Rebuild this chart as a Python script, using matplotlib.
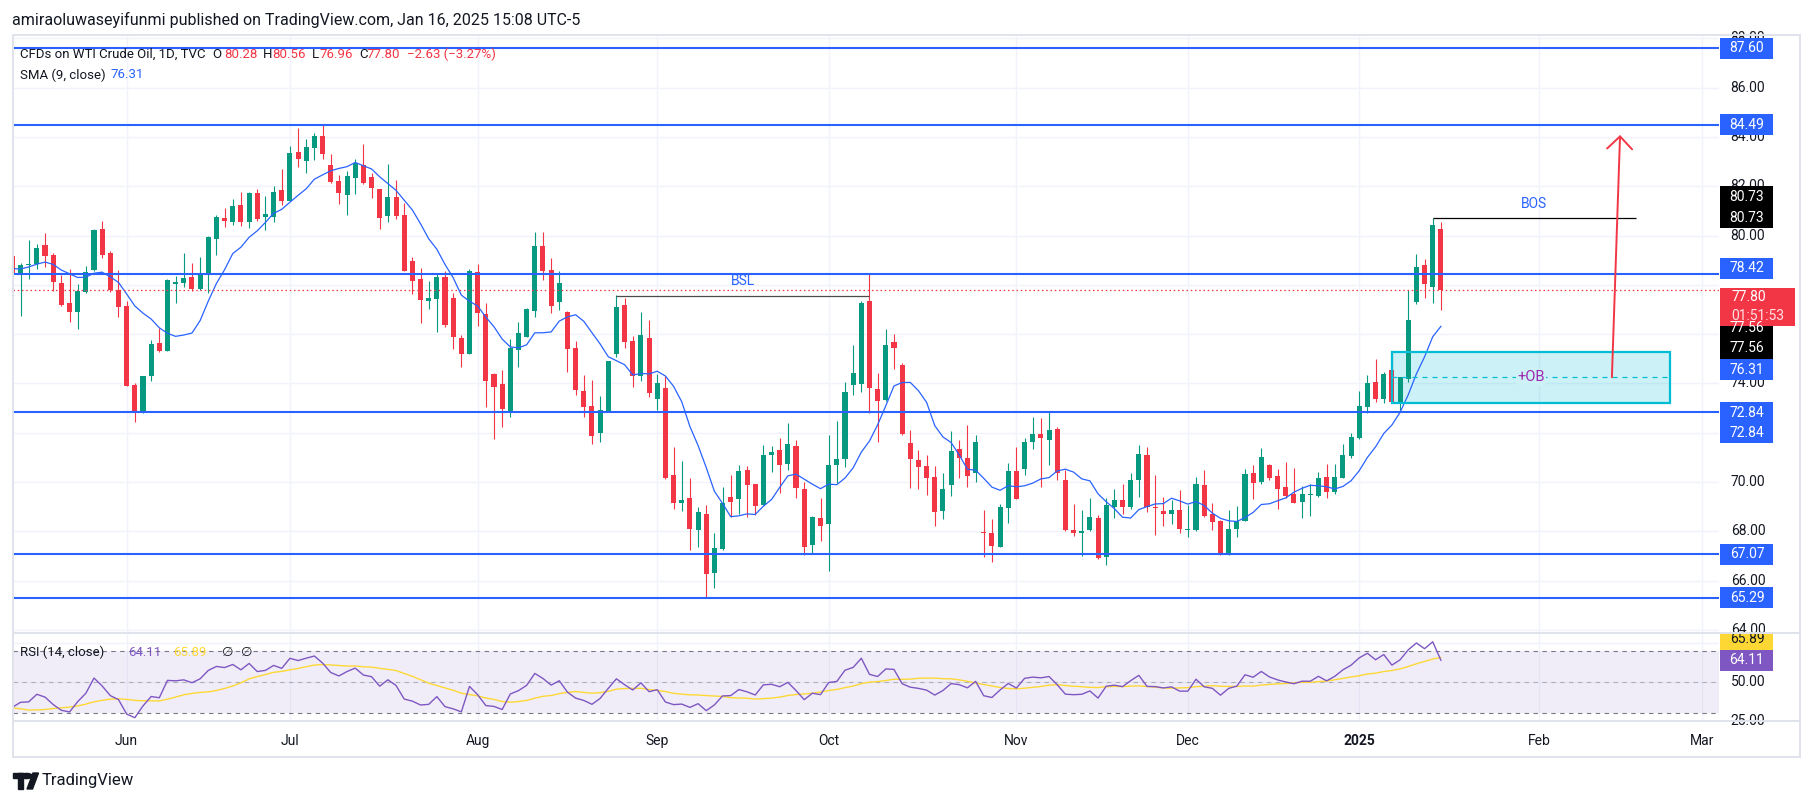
import numpy as np
import pandas as pd
import matplotlib
matplotlib.use('Agg')
import matplotlib.pyplot as plt
import matplotlib.transforms as mtrans
from matplotlib.patches import Rectangle, FancyArrowPatch, Circle, Polygon
from matplotlib.lines import Line2D

plt.rcParams['font.family'] = ['Roboto', 'DejaVu Sans']

# ---- daily candles, WTI CFD (TVC), 14 May 2024 .. 16 Jan 2025 ----
opens = [79.17, 78.43, 78.81, 78.85, 79.62, 79.21, 78.08, 77.28, 76.91, 77.69,
         78.61, 80.27, 79.30, 77.79, 77.14, 73.94, 72.83, 74.32, 75.64, 75.33,
         78.05, 78.09, 78.32, 77.82, 78.38, 79.84, 80.72, 80.57, 81.24, 80.57,
         81.73, 80.74, 80.77, 81.85, 81.42, 83.39, 83.04, 83.57, 84.04, 82.87,
         82.22, 81.66, 82.34, 82.87, 82.38, 81.89, 80.81, 81.57, 80.84, 78.97,
         78.24, 77.36, 77.44, 78.32, 77.47, 75.85, 75.21, 78.52, 76.82, 74.38,
         73.98, 72.79, 75.37, 75.90, 76.95, 79.58, 78.61, 77.32, 76.91, 75.44,
         73.69, 73.10, 71.98, 72.86, 75.20, 77.18, 75.74, 74.32, 75.85, 73.38,
         73.83, 70.30, 69.16, 69.35, 68.03, 68.70, 66.29, 67.27, 69.37, 69.30,
         70.49, 69.92, 69.07, 71.11, 71.30, 70.72, 71.46, 69.70, 67.44, 68.54,
         68.31, 70.70, 70.92, 73.92, 73.99, 77.35, 73.78, 73.33, 75.68, 74.75,
         71.58, 70.89, 70.65, 70.20, 68.84, 69.89, 71.34, 70.98, 70.35, 67.97,
         67.94, 67.38, 68.96, 70.43, 70.52, 71.61, 71.95, 71.71, 72.15, 70.08,
         68.05, 67.92, 68.03, 68.53, 66.94, 68.97, 69.27, 68.98, 70.06, 71.10,
         69.00, 68.82, 68.70, 68.87, 68.03, 68.05, 69.88, 68.70, 68.42, 67.08,
         68.09, 68.43, 70.35, 70.01, 70.69, 70.25, 69.78, 69.51, 69.20, 69.45,
         69.43, 70.19, 69.61, 70.18, 71.07, 71.77, 73.06, 74.05, 73.36, 74.55,
         73.25, 74.18, 77.29, 78.81, 77.93, 80.28]
highs = [79.20, 78.88, 79.82, 79.66, 80.11, 79.28, 78.40, 78.65, 78.04, 78.77,
         80.27, 80.59, 79.38, 78.61, 77.35, 74.01, 74.30, 75.76, 76.24, 78.24,
         78.36, 79.30, 78.88, 79.13, 79.99, 80.82, 81.12, 81.50, 81.77, 81.77,
         81.89, 81.61, 82.01, 82.70, 83.64, 84.38, 83.92, 84.15, 84.49, 83.31,
         82.46, 82.62, 83.11, 83.73, 82.54, 81.90, 82.91, 82.26, 81.32, 79.13,
         78.69, 78.16, 78.46, 78.55, 77.67, 75.95, 78.65, 78.85, 77.28, 74.41,
         74.55, 75.79, 76.49, 77.06, 80.15, 80.15, 79.09, 78.55, 76.95, 75.74,
         74.34, 74.14, 73.49, 74.92, 77.59, 77.47, 75.93, 76.91, 76.58, 74.38,
         74.28, 71.42, 70.83, 70.14, 68.97, 69.07, 67.92, 69.80, 70.29, 70.69,
         70.65, 69.93, 71.50, 71.44, 71.77, 72.38, 71.71, 69.99, 68.63, 69.33,
         71.91, 72.46, 74.05, 75.56, 77.36, 78.47, 74.41, 76.21, 76.01, 74.82,
         72.11, 71.30, 71.10, 70.65, 70.38, 72.07, 71.71, 72.33, 71.91, 68.87,
         68.49, 69.11, 70.76, 71.41, 71.77, 72.63, 72.59, 72.83, 72.25, 70.49,
         69.11, 68.87, 69.34, 68.66, 69.34, 69.72, 69.92, 70.35, 71.50, 71.41,
         70.29, 69.37, 69.27, 69.68, 69.07, 70.19, 70.49, 69.13, 68.45, 68.87,
         69.03, 70.52, 70.69, 71.37, 70.73, 70.52, 70.79, 70.56, 69.84, 69.92,
         70.42, 70.73, 70.73, 71.53, 71.98, 73.69, 74.34, 74.99, 74.48, 75.29,
         74.27, 77.79, 79.25, 79.05, 80.73, 80.56]
lows = [78.30, 76.75, 78.24, 78.66, 78.74, 77.73, 77.15, 76.51, 76.21, 77.65,
        78.56, 79.07, 77.69, 76.71, 73.90, 72.45, 72.80, 74.11, 75.29, 75.30,
        77.28, 77.93, 77.73, 77.78, 77.66, 79.23, 80.36, 80.43, 80.40, 80.30,
        80.61, 80.24, 80.57, 81.24, 81.40, 82.80, 82.52, 83.07, 83.11, 82.12,
        81.28, 80.85, 81.70, 82.10, 81.54, 80.28, 80.53, 80.69, 78.55, 77.64,
        76.47, 77.02, 76.10, 76.28, 75.41, 74.68, 75.20, 76.31, 73.03, 71.73,
        72.25, 72.65, 74.68, 75.88, 76.71, 78.20, 76.87, 76.98, 74.48, 73.51,
        72.63, 71.52, 71.64, 72.85, 75.09, 75.45, 73.87, 74.11, 73.44, 72.92,
        70.10, 68.89, 68.84, 67.22, 67.38, 65.32, 65.69, 67.25, 68.57, 68.70,
        68.57, 68.66, 69.05, 70.42, 69.57, 70.49, 69.34, 67.02, 67.11, 67.62,
        66.40, 69.95, 70.60, 73.52, 73.67, 72.79, 71.61, 73.30, 74.60, 71.90,
        69.77, 69.72, 69.47, 68.23, 68.51, 69.41, 70.18, 69.81, 70.01, 66.97,
        66.77, 67.35, 68.35, 69.30, 70.29, 71.34, 69.81, 70.69, 70.06, 67.99,
        67.81, 67.01, 67.99, 66.88, 66.61, 68.53, 68.70, 68.89, 69.37, 68.80,
        67.86, 68.22, 68.30, 67.92, 67.78, 67.99, 68.57, 68.03, 67.04, 67.05,
        67.78, 68.40, 69.29, 69.92, 70.06, 68.89, 69.34, 69.15, 68.53, 68.62,
        69.38, 69.34, 69.51, 70.15, 70.96, 71.75, 72.79, 73.26, 73.19, 73.22,
        72.92, 74.07, 77.23, 77.47, 77.28, 76.96]
closes = [78.38, 78.81, 78.85, 79.50, 79.15, 78.13, 77.20, 76.91, 77.75, 78.52,
          80.23, 79.23, 77.79, 77.12, 73.91, 72.83, 74.28, 75.60, 75.33, 78.20,
          78.12, 78.29, 77.82, 78.46, 79.96, 80.76, 80.61, 81.20, 80.53, 81.73,
          80.68, 80.88, 81.77, 81.42, 83.37, 83.11, 83.60, 84.04, 83.29, 82.18,
          81.74, 82.42, 82.96, 82.15, 81.95, 80.73, 81.57, 80.81, 78.58, 78.17,
          77.40, 77.47, 78.32, 76.39, 75.90, 75.21, 78.55, 76.87, 74.11, 73.87,
          72.98, 75.44, 76.05, 77.02, 79.58, 78.58, 77.16, 78.08, 75.41, 73.75,
          73.06, 71.88, 72.92, 74.91, 77.12, 75.70, 74.32, 75.97, 73.59, 74.03,
          70.14, 69.16, 69.27, 68.08, 68.77, 66.25, 67.32, 69.13, 69.20, 70.45,
          69.87, 69.04, 71.10, 71.22, 70.68, 71.54, 69.77, 67.38, 68.59, 68.23,
          70.68, 70.92, 73.64, 74.41, 77.27, 73.83, 73.30, 75.56, 75.45, 71.94,
          70.95, 70.62, 70.14, 68.76, 69.72, 71.26, 70.99, 70.26, 71.62, 67.94,
          67.42, 68.98, 70.46, 69.30, 71.64, 71.95, 71.80, 72.10, 70.38, 68.05,
          67.92, 67.99, 68.57, 66.90, 69.07, 69.27, 68.97, 70.08, 71.14, 69.00,
          68.96, 68.70, 68.87, 68.09, 68.09, 69.92, 68.63, 68.36, 67.08, 68.08,
          68.42, 70.33, 69.95, 71.00, 70.18, 69.73, 69.41, 69.16, 69.51, 69.50,
          70.15, 69.61, 70.19, 71.10, 71.81, 73.09, 74.01, 73.36, 74.38, 73.25,
          74.25, 76.58, 78.73, 78.05, 80.43, 77.80]
# closes before the visible window (Apr - mid May 2024), only to warm up SMA / RSI
prior_closes = [83.71, 85.15, 85.43, 86.59, 86.91, 86.43, 85.23, 86.21, 85.02, 85.66,
                85.41, 85.36, 82.69, 82.73, 83.14, 82.85, 83.36, 82.81, 83.57, 83.85,
                82.63, 81.93, 79.00, 78.95, 78.11, 78.48, 78.38, 78.99, 79.26, 78.26,
                79.12]

month_labels = ['Jun', 'Jul', 'Aug', 'Sep', 'Oct', 'Nov', 'Dec', '2025', 'Feb', 'Mar']
month_bars = [14, 34, 57, 79, 100, 123, 144, 165, 187, 207]

levels = [87.60, 84.49, 78.42, 72.84, 67.07, 65.29]
bsl_price, bsl_from, bsl_to = 77.56, 74, 105
bos_price, bos_from, bos_to = 80.73, 174, 198.9
ob_from, ob_to, ob_low, ob_high = 169, 203.06, 73.22, 75.29
arrow_start = (195.95, 74.25)
arrow_end = (196.95, 84.08)
sma_last, rsi_last, rsi_ma_last = 76.31, 64.11, 65.89
countdown = '01:51:53'

UP, DN, BLUE, TXT = '#089981', '#f23645', '#2962ff', '#131722'
GRID, FRAME, PURPLE, YELLOW = '#f0f3fa', '#e0e3eb', '#7e57c2', '#fdd835'

# indicators
allc = pd.Series(prior_closes + closes)
sma = allc.rolling(9).mean().values[-len(closes):]
d = allc.diff().fillna(0)
g = d.clip(lower=0).ewm(alpha=1/14, adjust=False).mean()
ls_ = (-d).clip(lower=0).ewm(alpha=1/14, adjust=False).mean()
rsi_all = 100 - 100 / (1 + g / ls_)
rsi = rsi_all.values[-len(closes):]
rsi_ma = rsi_all.rolling(14).mean().values[-len(closes):]

W, H = 1814, 802
fig = plt.figure(figsize=(W / 100, H / 100), dpi=100)
fig.patch.set_facecolor('white')


def fx(px):
    return px / W


def fy(py):
    return 1 - py / H


L_, R_, T_, MB, RT, RB = 12.7, 1719, 34.5, 632, 633, 721
ax = fig.add_axes([fx(L_), fy(MB), fx(R_) - fx(L_), fy(T_) - fy(MB)])
axr = fig.add_axes([fx(L_), fy(RB), fx(R_) - fx(L_), fy(RT) - fy(RB)])
axp = fig.add_axes([fx(R_), fy(MB), fx(1800) - fx(R_), fy(T_) - fy(MB)])
axpr = fig.add_axes([fx(R_), fy(RB), fx(1800) - fx(R_), fy(RT) - fy(RB)])
for a in (ax, axr, axp, axpr):
    a.axis('off')
ax.set_xlim(0.04, 209.07)
axr.set_xlim(0.04, 209.07)
ax.set_ylim(63.91, 88.16)
axr.set_ylim(24.84, 81.6)
axp.set_ylim(ax.get_ylim())
axpr.set_ylim(axr.get_ylim())

# grid
for b in month_bars:
    ax.axvline(b, color=GRID, lw=1, zorder=0)
    axr.axvline(b, color=GRID, lw=1, zorder=0)
for v in range(64, 90, 2):
    ax.axhline(v, color=GRID, lw=1, zorder=0)
for v in (25, 50, 75):
    axr.axhline(v, color=GRID, lw=1, zorder=0)

# candles
x = np.arange(len(closes))
o, hi, lo, c = map(np.array, (opens, highs, lows, closes))
col = np.where(c >= o, UP, DN)
ax.vlines(x, lo, hi, colors=col, lw=0.8, zorder=3)
ax.bar(x, np.maximum(np.abs(c - o), 0.04), bottom=np.minimum(o, c), width=0.62,
       color=col, lw=0, zorder=3)
ax.plot(x, sma, color=BLUE, lw=0.9, zorder=4)

# order block
ax.add_patch(Rectangle((ob_from, ob_low), ob_to - ob_from, ob_high - ob_low,
                       facecolor='#00bcd4', alpha=0.2, lw=0, zorder=2))
ax.add_patch(Rectangle((ob_from, ob_low), ob_to - ob_from, ob_high - ob_low,
                       fill=False, edgecolor='#00bcd4', lw=1.6, zorder=5))
ob_mid = (ob_low + ob_high) / 2
ax.hlines(ob_mid, ob_from, ob_to, color='#00bcd4', lw=0.9, ls=(0, (4, 4)), zorder=5)
ax.text((ob_from + ob_to) / 2, ob_mid, '+OB', color='#9c27b0', fontsize=10.5,
        ha='center', va='center', zorder=6,
        bbox=dict(facecolor='#ccf2f6', edgecolor='none', pad=1))

# levels
for v in levels:
    ax.axhline(v, color=BLUE, lw=1.5, zorder=5)
ax.axhline(c[-1], color=DN, lw=0.9, ls=(0, (1.2, 2.2)), zorder=4)

ax.hlines(bsl_price, bsl_from, bsl_to, color='#4a4a4a', lw=0.9, zorder=5)
ax.annotate('BSL', ((bsl_from + bsl_to) / 2, bsl_price), xytext=(0, 10.5),
            textcoords='offset points', ha='center', va='center', color=BLUE, fontsize=10)
ax.hlines(bos_price, bos_from, bos_to, color='black', lw=0.9, zorder=5)
ax.annotate('BOS', ((bos_from + bos_to) / 2, bos_price), xytext=(0, 10),
            textcoords='offset points', ha='center', va='center', color=BLUE, fontsize=10)
ax.add_patch(FancyArrowPatch(arrow_start, arrow_end,
                             arrowstyle='->,head_length=0.9,head_width=0.9',
                             mutation_scale=10, color=DN, lw=1.4, zorder=6,
                             shrinkA=0, shrinkB=0))

# RSI pane
axr.axhspan(30, 70, color=PURPLE, alpha=0.1, lw=0, zorder=1)
for v, a_ in ((70, 1), (50, 0.5), (30, 1)):
    axr.axhline(v, color='#787b86', alpha=a_, lw=0.8, ls=(0, (4, 4)), zorder=2)
axr.plot(x, rsi_ma, color=YELLOW, lw=1, zorder=3)
axr.plot(x, rsi, color=PURPLE, lw=1, zorder=4)


def py_of(a, v):
    return H - a.transData.transform((0, v))[1]


def tag(a, py, txt, bg, fg, x1=1773, h=21):
    r = Rectangle((fx(1720), fy(py + h / 2)), fx(x1) - fx(1720), h / H,
                  transform=fig.transFigure, facecolor=bg, lw=0, zorder=8)
    a.add_artist(r)
    t = a.text(fx(1747), fy(py), txt, transform=fig.transFigure, color=fg,
               fontsize=10, ha='center', va='center', zorder=9)
    t.set_clip_path(a.patch)


def plain(a, v):
    t = a.text(fx(1748), fy(py_of(a, v)), f'{v:.2f}', transform=fig.transFigure,
               color=TXT, fontsize=10, ha='center', va='center', zorder=3)
    t.set_clip_path(a.patch)


# axis ticks that are not fully hidden behind the value tags
for v in (88, 86, 84, 82, 80, 74, 70, 68, 66, 64):
    plain(axp, v)
for v in (50, 25):
    plain(axpr, v)

shifted = [(87.60, 0, BLUE), (84.49, 0, BLUE), (bos_price, -21, 'black'), (bos_price, 0, 'black'),
           (78.42, -6, BLUE), (bsl_price, 32.5, 'black'), (bsl_price, 52.5, 'black'),
           (sma_last, 43.5, BLUE), (72.84, 1, BLUE), (72.84, 21, BLUE),
           (67.07, 0, BLUE), (65.29, 0, BLUE)]
for v, dy, bg in shifted:
    tag(axp, py_of(axp, v) + dy, f'{v:.2f}', bg, 'white')

# last price box
ly = py_of(axp, c[-1]) - 2
axp.add_artist(Rectangle((fx(1720), fy(ly + 38)), fx(1795) - fx(1720), 38 / H,
                         transform=fig.transFigure, facecolor=DN, lw=0, zorder=8))
axp.text(fx(1731), fy(ly + 9.5), f'{c[-1]:.2f}', transform=fig.transFigure, color='white',
         fontsize=10, ha='left', va='center', zorder=9)
axp.text(fx(1731), fy(ly + 28), countdown, transform=fig.transFigure, color='#fde0e3',
         fontsize=10, ha='left', va='center', zorder=9)

tag(axpr, py_of(axpr, rsi_last) - 21, f'{rsi_ma_last:.2f}', YELLOW, TXT)
tag(axpr, py_of(axpr, rsi_last), f'{rsi_last:.2f}', PURPLE, 'white')

# month labels
tr = mtrans.blended_transform_factory(axr.transData, fig.transFigure)
for b, m in zip(month_bars, month_labels):
    axr.text(b, fy(741), m, transform=tr, ha='center', va='center', fontsize=10,
             color=TXT, fontweight='bold' if m == '2025' else 'normal', clip_on=False)

# frame
for (x0, y0, x1, y1) in [(L_, T_, 1800, T_), (L_, 757, 1800, 757), (L_, T_, L_, 757),
                         (1800, T_, 1800, 757), (L_, 632.5, 1800, 632.5), (L_, 721, 1800, 721)]:
    fig.add_artist(Line2D([fx(x0), fx(x1)], [fy(y0), fy(y1)], color=FRAME, lw=1.4))

# legends
fig.text(fx(12), fy(20), 'amiraoluwaseyifunmi published on TradingView.com, Jan 16, 2025 15:08 UTC-5',
         color=TXT, fontsize=11.5, va='center')
chg = c[-1] - c[-2]
chg_txt = f'{chg:.2f} ({chg / c[-2] * 100:.2f}%)'.replace('-', '\u2212')
parts = [(20, 'CFDs on WTI Crude Oil, 1D, TVC', TXT), (212.7, 'O', TXT), (224, f'{o[-1]:.2f}', DN),
         (263, 'H', TXT), (272.7, f'{hi[-1]:.2f}', DN), (312, 'L', TXT), (319, f'{lo[-1]:.2f}', DN),
         (359, 'C', TXT), (366.7, f'{c[-1]:.2f}', DN), (407.3, chg_txt, DN)]
for px, s, cl in parts:
    fig.text(fx(px), fy(54.3), s, color=cl, fontsize=9.5, va='center')
fig.text(fx(20), fy(75), 'SMA (9, close)', color=TXT, fontsize=9.5, va='center')
fig.text(fx(110), fy(75), f'{sma_last:.2f}', color=BLUE, fontsize=9.5, va='center')
for px, s, cl in [(20, 'RSI (14, close)', TXT), (127.7, f'{rsi_last:.2f}', PURPLE),
                  (173.3, f'{rsi_ma_last:.2f}', YELLOW), (221.7, '\u2205', TXT), (240.7, '\u2205', TXT)]:
    fig.text(fx(px), fy(652.7), s, color=cl, fontsize=9.5, va='center')

# TradingView logo
fig.add_artist(Rectangle((fx(13), fy(778)), fx(23) - fx(13), 5 / H, transform=fig.transFigure, color=TXT))
fig.add_artist(Rectangle((fx(18), fy(789)), fx(23) - fx(18), 16 / H, transform=fig.transFigure, color=TXT))
fig.add_artist(Polygon([(fx(27), fy(789)), (fx(33), fy(773)), (fx(38.5), fy(773)), (fx(32.5), fy(789))],
                       transform=fig.transFigure, color=TXT))
fig.add_artist(Circle((fx(26.5), fy(776)), 2.6 / H, transform=fig.transFigure, color=TXT))
fig.text(fx(42), fy(781), 'TradingView', color=TXT, fontsize=12, va='center')

fig.savefig('out.png', dpi=100, facecolor='white')
